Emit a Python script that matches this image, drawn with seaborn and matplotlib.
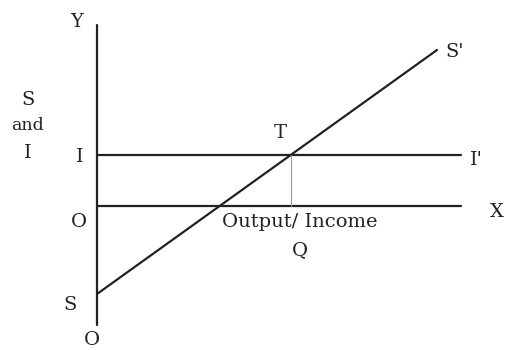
import matplotlib

matplotlib.use("Agg", force=True)
import matplotlib.pyplot as plt
import numpy as np
import seaborn as sns

# Saving function S-S' and investment I-I' (origin O at 0, 0)
saving_x = [0.0, 34.0]
saving_y = [-8.8, 15.6]
investment_level = 5.1
x_axis_end = 36.4
y_axis_range = [-11.9, 18.1]

sns.set_style("white")
plt.rcParams["font.family"] = ["DejaVu Serif", "Liberation Serif"]

fig = plt.figure(figsize=(5.08, 3.5), dpi=100)
ax = fig.add_axes([0, 0, 1, 1])
ax.set_xlim(-9.7, 41.1)
ax.set_ylim(-14.4, 20.6)
ax.axis("off")

line_kw = dict(color="#222222", linewidth=1.6, legend=False, estimator=None, sort=False)
sns.lineplot(x=[0, 0], y=y_axis_range, ax=ax, **line_kw)
sns.lineplot(x=[0, x_axis_end], y=[0, 0], ax=ax, **line_kw)
sns.lineplot(x=[0, x_axis_end], y=[investment_level] * 2, ax=ax, **line_kw)
sns.lineplot(x=saving_x, y=saving_y, ax=ax, **line_kw)

# equilibrium T where S = I
slope = (saving_y[1] - saving_y[0]) / (saving_x[1] - saving_x[0])
t_x = (investment_level - saving_y[0]) / slope
sns.lineplot(x=[t_x, t_x], y=[0, investment_level], ax=ax, color="#999999",
             linewidth=0.8, legend=False, estimator=None, sort=False)

fs = 14
txt = dict(fontsize=fs, color="#222222", ha="center", va="center")
ax.text(-2.0, 18.4, "Y", **txt)
ax.text(-6.9, 10.6, "S", **txt)
ax.text(-7.0, 8.0, "and", fontsize=12.5, color="#222222", ha="center", va="center")
ax.text(-6.9, 5.3, "I", **txt)
ax.text(-1.7, 4.9, "I", **txt)
ax.text(-1.8, -1.6, "O", **txt)
ax.text(-2.7, -9.9, "S", **txt)
ax.text(-0.5, -13.4, "O", **txt)
ax.text(t_x - 1.0, 7.3, "T", **txt)
ax.text(saving_x[1] + 1.8, saving_y[1] - 0.2, "S'", **txt)
ax.text(x_axis_end + 1.5, investment_level - 0.5, "I'", **txt)
ax.text(x_axis_end + 3.6, -0.6, "X", **txt)
ax.text(t_x + 0.9, -1.6, "Output/ Income", **txt)
ax.text(t_x + 0.9, -4.4, "Q", **txt)

fig.savefig("out.png", dpi=100)
